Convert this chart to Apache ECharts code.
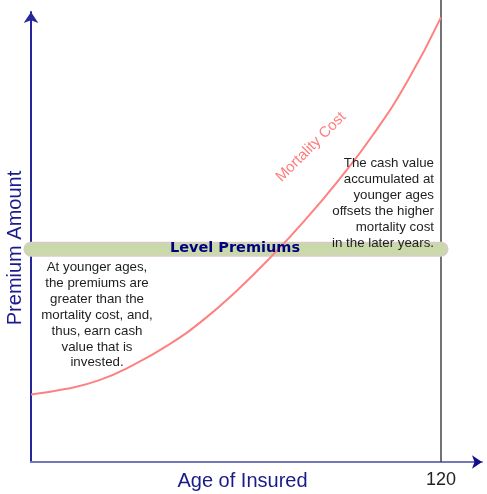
<!DOCTYPE html>
<html>
<head>
<meta charset="utf-8">
<script src="https://cdn.jsdelivr.net/npm/echarts@6/dist/echarts.min.js"></script>
<style>html,body{margin:0;padding:0;background:#fff;}#c{width:487px;height:494px;}</style>
</head>
<body>
<div id="c"></div>
<script>
// Data
var ages = [0, 10, 20, 30, 40, 50, 60, 70, 80, 90, 100, 110, 120];
var mortalityCost = [15.0, 16.2, 18.2, 21.6, 25.9, 31.3, 37.9, 45.4, 53.6, 62.6, 72.6, 84.4, 98.8];
var levelPremium = 47.3;
var levelSpan = [0, 120];
var tickLabels = ['120'];
var endAge = 120;
var endLineSpan = [0, 102.7];

var chart = echarts.init(document.getElementById('c'), null, {renderer: 'canvas'});

var curveData = ages.map(function (a, i) { return [a, mortalityCost[i]]; });
var levelData = levelSpan.map(function (a) { return [a, levelPremium]; });
var endLineData = endLineSpan.map(function (v) { return [endAge, v]; });

var option = {
  animation: false,
  grid: {left: 31, right: 5, top: 12, bottom: 32, containLabel: false},
  xAxis: [{
    type: 'value', min: 0, max: 132, interval: 10,
    axisLine: {show: true, onZero: false, lineStyle: {color: '#7676bc', width: 2}},
    axisTick: {show: false},
    splitLine: {show: false},
    axisLabel: {
      show: true, margin: 9, fontSize: 18, color: '#222', fontFamily: 'Liberation Sans, Arial',
      showMaxLabel: false,
      formatter: function (v) { return tickLabels.indexOf(String(v)) >= 0 ? String(v) : ''; }
    }
  }, {
    type: 'value', min: 0, max: 132, position: 'bottom',
    axisLine: {show: true, onZero: false, symbol: ['none', 'arrow'], symbolSize: [10, 10],
      lineStyle: {color: '#10108c', width: 0}},
    axisTick: {show: false}, splitLine: {show: false}, axisLabel: {show: false}
  }],
  yAxis: {
    type: 'value', min: 0, max: 100,
    axisLine: {show: true, onZero: false, symbol: ['none', 'arrow'], symbolSize: [11, 11],
      lineStyle: {color: '#26269c', width: 2}},
    axisTick: {show: false},
    splitLine: {show: false},
    axisLabel: {show: false}
  },
  series: [{
    name: 'endLine', type: 'line', data: endLineData, symbol: 'none', silent: true, clip: false,
    lineStyle: {color: '#444', width: 1.5}, z: 1
  }, {
    name: 'levelOuter', type: 'line', data: levelData, symbol: 'none', silent: true,
    lineStyle: {color: '#dccaca', width: 15, cap: 'round'}, z: 2
  }, {
    name: 'Level Premiums', type: 'line', data: levelData, symbol: 'none', silent: true,
    lineStyle: {color: '#c9d9a9', width: 12, cap: 'round'}, z: 3
  }, {
    name: 'Mortality Cost', type: 'line', data: curveData, smooth: 0.5, symbol: 'none', silent: true,
    lineStyle: {color: '#ff8080', width: 2}, z: 4
  }],
  graphic: [
    {type: 'text', x: 235, y: 248.5, z: 10, style: {text: 'Level Premiums', font: 'bold 14.5px "DejaVu Sans", Verdana', fill: '#000080', align: 'center', verticalAlign: 'middle'}},
    {type: 'text', x: 311, y: 147, rotation: Math.PI / 4, z: 10, style: {text: 'Mortality Cost', font: '15px "Liberation Sans", Arial', fill: '#ff7c7c', align: 'center', verticalAlign: 'middle'}},
    {type: 'text', x: 97, y: 259.8, z: 10, style: {text: 'At younger ages,\nthe premiums are\ngreater than the\nmortality cost, and,\nthus, earn cash\nvalue that is\ninvested.', font: '13.3px "Liberation Sans", Arial', lineHeight: 15.83, fill: '#1e1e1e', align: 'center', verticalAlign: 'top'}},
    {type: 'text', x: 434, y: 155, z: 10, style: {text: 'The cash value\naccumulated at\nyounger ages\noffsets the higher\nmortality cost\nin the later years.', font: '13.3px "Liberation Sans", Arial', lineHeight: 16, fill: '#1e1e1e', align: 'right', verticalAlign: 'top'}},
    {type: 'text', x: 242.5, y: 481, z: 10, style: {text: 'Age of Insured', font: '20px "Liberation Sans", Arial', fill: '#1a1a8a', align: 'center', verticalAlign: 'middle'}},
    {type: 'text', x: 15, y: 248, rotation: Math.PI / 2, z: 10, style: {text: 'Premium Amount', font: '20px "Liberation Sans", Arial', fill: '#1a1a8a', align: 'center', verticalAlign: 'middle'}}
  ]
};
chart.setOption(option);
</script>
</body>
</html>
